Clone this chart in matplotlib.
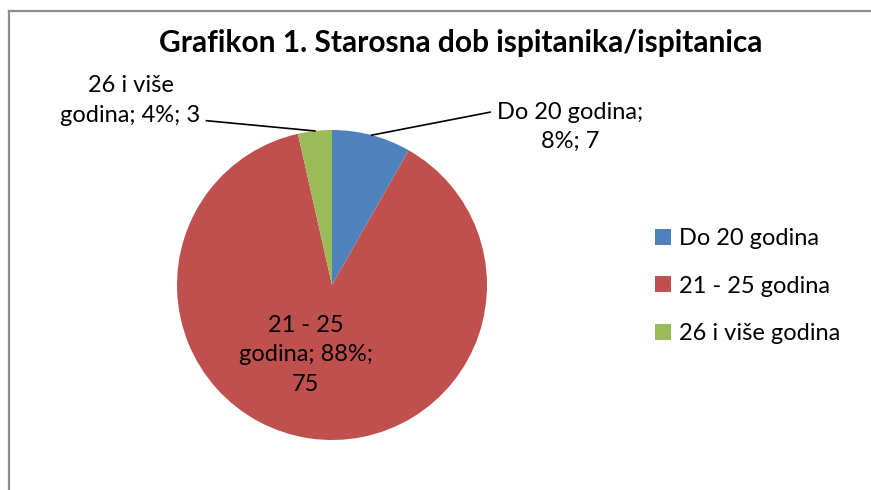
import matplotlib.pyplot as plt
from matplotlib.lines import Line2D
import numpy as np

plt.rcParams['font.family'] = ['Lato', 'DejaVu Sans']

# podaci
kategorije = ['Do 20 godina', '21 - 25 godina', '26 i više godina']
broj = [7, 75, 3]
postotak = ['8%', '88%', '4%']
boje = ['#4F81BD', '#C0504D', '#9BBB59']
naslov = 'Grafikon 1. Starosna dob ispitanika/ispitanica'

fig = plt.figure(figsize=(8.71, 4.90), dpi=100)
W, H = 871, 490

# pie axes (pixel box)
ax = fig.add_axes([177 / W, 50 / H, 310 / W, 310 / H])
wedges, _ = ax.pie(broj, colors=boje, startangle=90, counterclock=False,
                   radius=1.0, wedgeprops=dict(linewidth=0))
ax.set_xlim(-1, 1)
ax.set_ylim(-1, 1)
ax.set_aspect('equal')
ax.axis('off')

fs = 17

# oznake
tekstovi = ['Do 20 godina;\n8%; 7', '21 - 25\ngodina; 88%;\n75', '26 i više\ngodina; 4%; 3']
pozicije = [(1.535, 1.02), (-0.17, -0.45), (-1.30, 1.19)]
kraj_linije = [(1.02, 1.115), None, (-0.81, 1.06)]
for w, t, pos, kraj in zip(wedges, tekstovi, pozicije, kraj_linije):
    ax.text(pos[0], pos[1], t, ha='center', va='center', fontsize=fs,
            linespacing=1.5, clip_on=False)
    if kraj is not None:
        kut = np.deg2rad((w.theta1 + w.theta2) / 2)
        x0, y0 = np.cos(kut), np.sin(kut)
        ax.add_line(Line2D([x0, kraj[0]], [y0, kraj[1]], color='black',
                           linewidth=1.2, clip_on=False))

fig.text(461 / W, 1 - 43 / H, naslov, ha='center', va='center',
         fontsize=21.5, fontweight='bold')

fig.legend(wedges, kategorije, loc='center left',
           bbox_to_anchor=(634 / W, 1 - 286 / H), frameon=False,
           fontsize=fs, handlelength=0.65, handleheight=0.65,
           handletextpad=0.35, labelspacing=1.12)

# okvir (samo lijevi i gornji rub vidljiv)
fig.add_artist(Line2D([8.5 / W, 8.5 / W], [0, 1 - 11 / H], color='#8C8C8C',
                      linewidth=1.6, transform=fig.transFigure))
fig.add_artist(Line2D([8.5 / W, 1], [1 - 11 / H, 1 - 11 / H], color='#8C8C8C',
                      linewidth=1.6, transform=fig.transFigure))

fig.savefig('out.png', dpi=100)
